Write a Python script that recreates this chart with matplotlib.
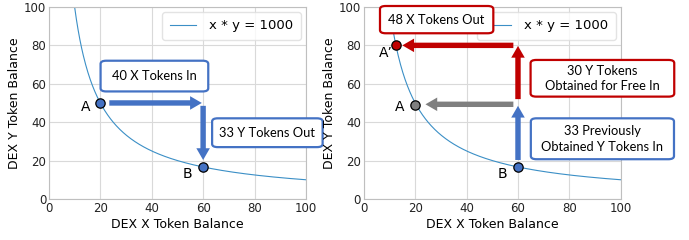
import matplotlib
matplotlib.use("Agg")
import matplotlib.pyplot as plt
from matplotlib.patches import FancyBboxPatch
import numpy as np

# curve x * y = k
k = 1000
x_curve = np.linspace(10, 100, 400)

# points (x, y)
pt_A = (20, 50)
pt_B = (60, 1000 / 60)
pt_A2 = (12.5, 80)
pt_A_right = (20, 49)

blue = '#4472C4'
red = '#C00000'
gray = '#7F7F7F'
line_col = '#3b8fc6'

plt.rcParams['font.family'] = 'DejaVu Sans'

fig = plt.figure(figsize=(6.89, 2.4), dpi=100)
ax1 = fig.add_axes([0.071, 0.171, 0.373, 0.80])
ax2 = fig.add_axes([0.528, 0.171, 0.373, 0.80])

# px per data unit: x 2.57, y 1.92
ASPECT = 2.57 / 1.92


def style_axes(ax):
    ax.set_xlim(0, 100)
    ax.set_ylim(0, 100)
    ax.set_xticks([0, 20, 40, 60, 80, 100])
    ax.set_yticks([0, 20, 40, 60, 80, 100])
    ax.grid(True, color='#d9d9d9', lw=0.8)
    ax.set_axisbelow(True)
    for s in ax.spines.values():
        s.set_color('#bfbfbf')
        s.set_linewidth(0.8)
    ax.tick_params(length=0, labelsize=8.5, pad=2, colors='#222222')
    ax.set_xlabel('DEX X Token Balance', fontsize=9, labelpad=2)
    ax.set_ylabel('DEX Y Token Balance', fontsize=9, labelpad=2)
    ax.plot(x_curve, k / x_curve, color=line_col, lw=0.8, label='x * y = 1000')
    leg = ax.legend(loc='upper right', fontsize=9.5, frameon=True, handlelength=2.0,
                    borderaxespad=0.4, borderpad=0.55, handletextpad=1.0, fancybox=True)
    leg.get_frame().set_edgecolor('#dddddd')
    leg.set_zorder(5)


def arrow(ax, start, end, color):
    ax.annotate('', xy=end, xytext=start,
                arrowprops=dict(arrowstyle='simple,head_length=0.65,head_width=0.75,tail_width=0.3',
                                mutation_scale=13, color=color, shrinkA=0, shrinkB=0, lw=0),
                zorder=4)


def box(ax, x0, x1, y0, y1, s, ec):
    patch = FancyBboxPatch((x0, y0), x1 - x0, y1 - y0,
                           boxstyle='round,pad=0,rounding_size=2.2', mutation_aspect=1 / ASPECT,
                           fc='white', ec=ec, lw=1.6, zorder=7, clip_on=False)
    ax.add_patch(patch)
    ax.text((x0 + x1) / 2, (y0 + y1) / 2, s, ha='center', va='center', fontsize=9.3,
            family='Lato', linespacing=1.35, zorder=8, clip_on=False)


def point(ax, p, color):
    ax.scatter([p[0]], [p[1]], s=45, color=color, edgecolor='black', lw=0.9, zorder=6, clip_on=False)


style_axes(ax1)
style_axes(ax2)

# left panel
arrow(ax1, (23.5, 50), (59.5, 50), blue)
arrow(ax1, (60, 48.5), (60, 20.3), blue)
point(ax1, pt_A, blue)
point(ax1, pt_B, blue)
ax1.text(14.3, 48, 'A', fontsize=10, ha='center', va='center')
ax1.text(54, 12.8, 'B', fontsize=10, ha='center', va='center')
box(ax1, 20.1, 62, 56, 72, '40 X Tokens In', blue)
box(ax1, 63.5, 106.5, 27, 42, '33 Y Tokens Out', blue)

# right panel
arrow(ax2, (60, 20.3), (60, 48.5), blue)
arrow(ax2, (60, 52), (60, 79.7), red)
arrow(ax2, (58.2, 80), (15, 80), red)
arrow(ax2, (58.2, 49.3), (24, 49.3), gray)
point(ax2, pt_B, blue)
point(ax2, pt_A_right, gray)
point(ax2, pt_A2, red)
ax2.text(8.5, 76, "A\u2019", fontsize=10, ha='center', va='center')
ax2.text(14.1, 47.8, 'A', fontsize=10, ha='center', va='center')
ax2.text(54, 13, 'B', fontsize=10, ha='center', va='center')
box(ax2, 6.3, 50.4, 86.3, 100.5, '48 X Tokens Out', red)
box(ax2, 64.9, 120.8, 53.3, 72.4, '30 Y Tokens\nObtained for Free In', red)
box(ax2, 65, 120.7, 20.7, 42, '33 Previously\nObtained Y Tokens In', blue)

fig.savefig('out.png', dpi=100)
